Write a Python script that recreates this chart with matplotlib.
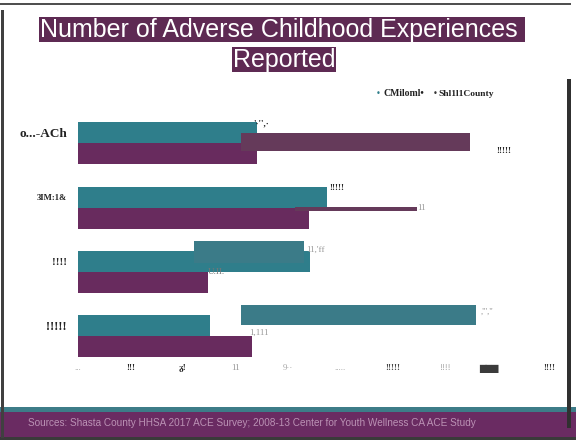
import matplotlib
matplotlib.use('Agg')
import matplotlib.pyplot as plt
from matplotlib.patches import Rectangle

# category labels (as they appear) and tick labels
categories = ['o...-ACh', '3IM:1&', '!!!!', '!!!!!']
tick_labels = ['...', '!!!', '\u1d79!', '11', '9\u00b7\u00b7', '.....', '!!!!!', '!!!!',
               '\u2588\u2588\u2588\u2003\u2003', '!!!!']
tick_values = [0, 5, 10, 15, 20, 25, 30, 35, 40, 45]

# base bars
california = [17.1, 23.8, 22.1, 12.6]
shasta = [17.1, 22.0, 12.4, 16.6]

# overlaid bars (start, length)
over_start = [15.6, 20.7, 11.1, 15.6]
over_len = [21.8, 11.7, 10.5, 22.4]
over_series = ['shasta', 'shasta', 'california', 'california']

legend_labels = ['CMiloml\u2022', 'Shl1l1County']
footer = 'Sources: Shasta County HHSA 2017 ACE Survey; 2008-13 Center for Youth Wellness CA ACE Study'

W, H = 576, 440
TEAL = '#2f7e8b'
PURPLE = '#682b5e'
OV_TEAL = '#3b7b88'
OV_PURPLE = '#653a5a'
TITLE_BG = '#5e2a53'


def fx(px):
    return px / W


def fy(py):
    return 1 - py / H


fig = plt.figure(figsize=(W / 100, H / 100), dpi=100)
fig.patch.set_facecolor('white')

# frame lines and footer band
fig.add_artist(Rectangle((fx(0), fy(5.3)), fx(571), 2 / H, transform=fig.transFigure,
                         facecolor='#505050', edgecolor='none'))
fig.add_artist(Rectangle((fx(0), fy(437)), 1, 30 / H, transform=fig.transFigure,
                         facecolor='#6a2b62', edgecolor='none'))
fig.add_artist(Rectangle((fx(0), fy(411.5)), 1, 4.5 / H, transform=fig.transFigure,
                         facecolor='#3d7c88', edgecolor='none'))
fig.add_artist(Rectangle((fx(0), fy(440)), 1, 3 / H, transform=fig.transFigure,
                         facecolor='#3a3a3a', edgecolor='none'))
fig.add_artist(Rectangle((fx(1), fy(438)), 2.5 / W, 428 / H, transform=fig.transFigure,
                         facecolor='#404040', edgecolor='none'))
fig.add_artist(Rectangle((fx(567), fy(428)), 3.5 / W, 349 / H, transform=fig.transFigure,
                         facecolor='#303030', edgecolor='none'))

fig.text(fx(28), fy(423), footer, ha='left', va='center', fontsize=7.2,
         family='Liberation Sans', color='#c9a4c3', alpha=0.85)

# title
fig.text(fx(282), fy(29.5), 'Number of Adverse Childhood Experiences ', ha='center', va='center',
         fontsize=18, family='Liberation Sans', color='white',
         bbox=dict(facecolor=TITLE_BG, edgecolor='none', pad=0.6))
fig.text(fx(284), fy(59.5), 'Reported', ha='center', va='center',
         fontsize=18, family='Liberation Sans', color='white',
         bbox=dict(facecolor=TITLE_BG, edgecolor='none', pad=0.6))

# legend
fig.text(fx(375.5), fy(93.5), '\u2022', ha='left', va='center', fontsize=6, color=TEAL)
fig.text(fx(383), fy(94), legend_labels[0], ha='left', va='center', fontsize=7,
         family='Liberation Serif', weight='bold', color='#222222')
fig.text(fx(432.5), fy(93.5), '\u2022', ha='left', va='center', fontsize=6, color='#333333')
fig.text(fx(438), fy(94), legend_labels[1], ha='left', va='center', fontsize=6.8,
         family='Liberation Serif', weight='bold', color='#222222')

# chart area
ax = fig.add_axes([fx(78), fy(360), 482 / W, 250 / H])
ax.set_facecolor('none')
pos = list(range(len(categories)))
h = 0.326
ax.barh([p - h / 2 for p in pos], california, height=h, color=TEAL, edgecolor='none')
ax.barh([p + h / 2 for p in pos], shasta, height=h, color=PURPLE, edgecolor='none')

over_off = [-0.02, 0.02, -0.31, -0.326]
over_h = [0.28, 0.067, 0.336, 0.305]
for i in pos:
    col = OV_PURPLE if over_series[i] == 'shasta' else OV_TEAL
    ax.barh(pos[i] + over_off[i], over_len[i], left=over_start[i], height=over_h[i],
            color=col, edgecolor='none')

ax.set_xlim(0, 46)
ax.set_ylim(3.369, -0.518)
ax.set_yticks([p - h / 2 for p in pos])
ax.set_yticklabels(categories)
ax.set_xticks(tick_values)
ax.set_xticklabels(tick_labels)
ax.tick_params(length=0)
ax.tick_params(axis='y', pad=8)
ax.tick_params(axis='x', pad=3)
for s in ax.spines.values():
    s.set_visible(False)

ysize = [9.5, 6.2, 8, 9]
for lab, s in zip(ax.get_yticklabels(), ysize):
    lab.set_family('Liberation Serif')
    lab.set_weight('bold')
    lab.set_color('#222222')
    lab.set_fontsize(s)

xcol = ['#aaaaaa', '#222222', '#222222', '#999999', '#aaaaaa', '#aaaaaa',
        '#444444', '#999999', '#3b3b3b', '#333333']
for i, lab in enumerate(ax.get_xticklabels()):
    lab.set_color(xcol[i])
    lab.set_fontsize(6.5)
    if i == 8:
        lab.set_family('DejaVu Sans')
        lab.set_fontsize(6)
    else:
        lab.set_family('Liberation Serif')
        lab.set_weight('bold' if xcol[i] in ('#222222', '#444444', '#333333') else 'normal')

# value labels, anchored on bar ends
dark = dict(family='Liberation Serif', weight='bold', color='#222222', fontsize=6.5, va='center', ha='left')
grey = dict(family='Liberation Serif', color='#9a9a9a', fontsize=6.5, va='center', ha='left')
ax.text(california[0] - 0.4, pos[0] - 0.31, "'\u00b7'',\u00b7", **dark)
ax.text(over_start[0] + over_len[0] + 2.5, pos[0] + 0.12, '!!!!!', **dark)
ax.text(california[1] + 0.2, pos[1] - 0.30, '!!!!!', **dark)
ax.text(over_start[1] + over_len[1], pos[1], '11', **grey)
ax.text(over_start[2] + over_len[2] + 0.2, pos[2] - 0.35, "11,'ff", **grey)
ax.text(shasta[2], pos[2], 'U.II.', family='Liberation Serif', color='#777777', fontsize=6.5,
        va='center', ha='left')
ax.text(over_start[3] + over_len[3] + 0.4, pos[3] - 0.38, ",''',''", **grey)
ax.text(over_start[3] + 0.7, pos[3] - 0.05, '1,111', **grey)

fig.savefig('out.png', dpi=100)
